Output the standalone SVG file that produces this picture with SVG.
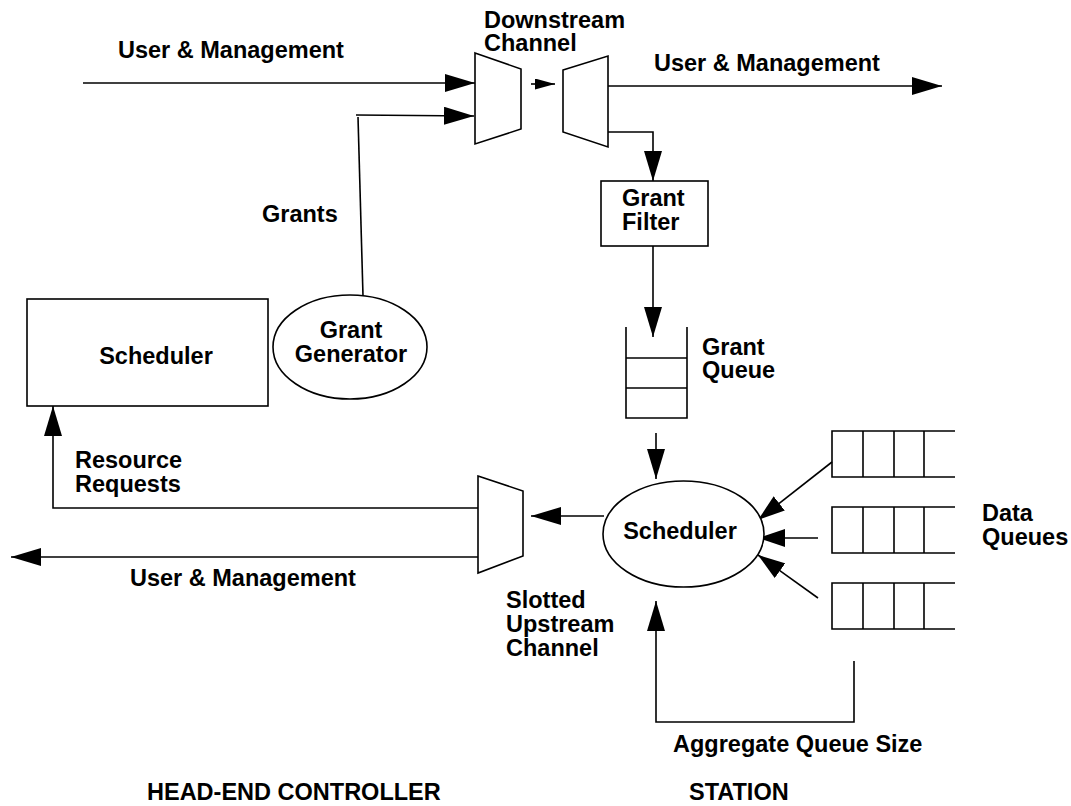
<svg xmlns="http://www.w3.org/2000/svg" width="1071" height="806" viewBox="0 0 1071 806">
<style>
text{font-family:"Liberation Sans",Arial,sans-serif;font-weight:bold;font-size:23.5px;fill:#000}
.s{fill:none;stroke:#000;stroke-width:1.6}
.w{fill:#fff;stroke:#000;stroke-width:1.6}
</style>
<defs>
<marker id="ah" markerUnits="userSpaceOnUse" markerWidth="30" markerHeight="18" refX="30" refY="9" orient="auto"><path d="M0,0 L30,9 L0,18 z" fill="#000"/></marker>
<marker id="ahs" markerUnits="userSpaceOnUse" markerWidth="20" markerHeight="11" refX="20" refY="5.5" orient="auto"><path d="M0,0 L20,5.5 L0,11 z" fill="#000"/></marker>
<marker id="ahm" markerUnits="userSpaceOnUse" markerWidth="27" markerHeight="18" refX="27" refY="9" orient="auto"><path d="M0,0 L27,9 L0,18 z" fill="#000"/></marker>
</defs>
<rect width="1071" height="806" fill="#fff"/>

<g id="connectors">
<line class="s" x1="83" y1="83" x2="475" y2="83" marker-end="url(#ah)"/>
<polyline class="s" points="363,296 358,117"/>
<line class="s" x1="356" y1="115" x2="474" y2="116" marker-end="url(#ah)"/>
<line class="s" x1="531" y1="84" x2="555" y2="84" marker-end="url(#ahs)"/>
<line class="s" x1="608" y1="86" x2="942" y2="86" marker-end="url(#ah)"/>
<polyline class="s" points="608,132 653,132 653,181" marker-end="url(#ah)"/>
<line class="s" x1="653" y1="246" x2="653" y2="337" marker-end="url(#ah)"/>
<line class="s" x1="656" y1="433" x2="656" y2="479" marker-end="url(#ah)"/>
<line class="s" x1="604" y1="516" x2="531" y2="516" marker-end="url(#ah)"/>
<polyline class="s" points="478,508 53,508 53,406" marker-end="url(#ah)"/>
<line class="s" x1="478" y1="557" x2="11" y2="557" marker-end="url(#ah)"/>
<line class="s" x1="832" y1="462" x2="758" y2="520" marker-end="url(#ahm)"/>
<line class="s" x1="818" y1="538" x2="758" y2="538" marker-end="url(#ahm)"/>
<line class="s" x1="818" y1="598" x2="758" y2="555" marker-end="url(#ahm)"/>
<polyline class="s" points="854,661 854,722 656,722 656,601" marker-end="url(#ah)"/>
</g>

<g id="downstream-mux"><polygon class="w" points="475,53 521,69 521,129 475,144"/></g>
<g id="downstream-demux"><polygon class="w" points="563,70 608,56 608,147 563,132"/></g>
<g id="upstream-mux"><polygon class="w" points="478,476 523,491 523,556 478,573"/></g>

<g id="hc-scheduler">
<rect class="w" x="27" y="299" width="241" height="107"/>
<text x="156" y="364" text-anchor="middle">Scheduler</text>
</g>
<g id="grant-generator">
<ellipse class="w" cx="350" cy="347" rx="77" ry="52"/>
<text x="351" y="338" text-anchor="middle">Grant</text>
<text x="351" y="362" text-anchor="middle">Generator</text>
</g>
<g id="grant-filter">
<rect class="w" x="601" y="181" width="107" height="65"/>
<text x="622" y="206">Grant</text>
<text x="622" y="230">Filter</text>
</g>
<g id="grant-queue">
<polyline class="s" points="626,327 626,418 687,418 687,327"/>
<line class="s" x1="626" y1="358" x2="687" y2="358"/>
<line class="s" x1="626" y1="388" x2="687" y2="388"/>
<text x="702" y="355">Grant</text>
<text x="702" y="378">Queue</text>
</g>
<g id="station-scheduler">
<ellipse class="w" cx="683.5" cy="534" rx="80.5" ry="53"/>
<text x="680" y="539" text-anchor="middle">Scheduler</text>
</g>
<g id="data-queue-1">
<polyline class="s" points="955,431 832,431 832,477 955,477"/>
<line class="s" x1="863" y1="431" x2="863" y2="477"/><line class="s" x1="894" y1="431" x2="894" y2="477"/><line class="s" x1="924" y1="431" x2="924" y2="477"/>
</g>
<g id="data-queue-2">
<polyline class="s" points="955,507 832,507 832,553 955,553"/>
<line class="s" x1="863" y1="507" x2="863" y2="553"/><line class="s" x1="894" y1="507" x2="894" y2="553"/><line class="s" x1="924" y1="507" x2="924" y2="553"/>
</g>
<g id="data-queue-3">
<polyline class="s" points="955,583 832,583 832,629 955,629"/>
<line class="s" x1="863" y1="583" x2="863" y2="629"/><line class="s" x1="894" y1="583" x2="894" y2="629"/><line class="s" x1="924" y1="583" x2="924" y2="629"/>
</g>

<g id="labels">
<text x="118" y="58">User &amp; Management</text>
<text x="484" y="28">Downstream</text>
<text x="484" y="51">Channel</text>
<text x="654" y="71">User &amp; Management</text>
<text x="262" y="222">Grants</text>
<text x="75" y="468">Resource</text>
<text x="75" y="492">Requests</text>
<text x="130" y="586">User &amp; Management</text>
<text x="506" y="608">Slotted</text>
<text x="506" y="632">Upstream</text>
<text x="506" y="656">Channel</text>
<text x="982" y="521">Data</text>
<text x="982" y="545">Queues</text>
<text x="673" y="752">Aggregate Queue Size</text>
<text x="147" y="800">HEAD-END CONTROLLER</text>
<text x="689" y="800">STATION</text>
</g>
</svg>
